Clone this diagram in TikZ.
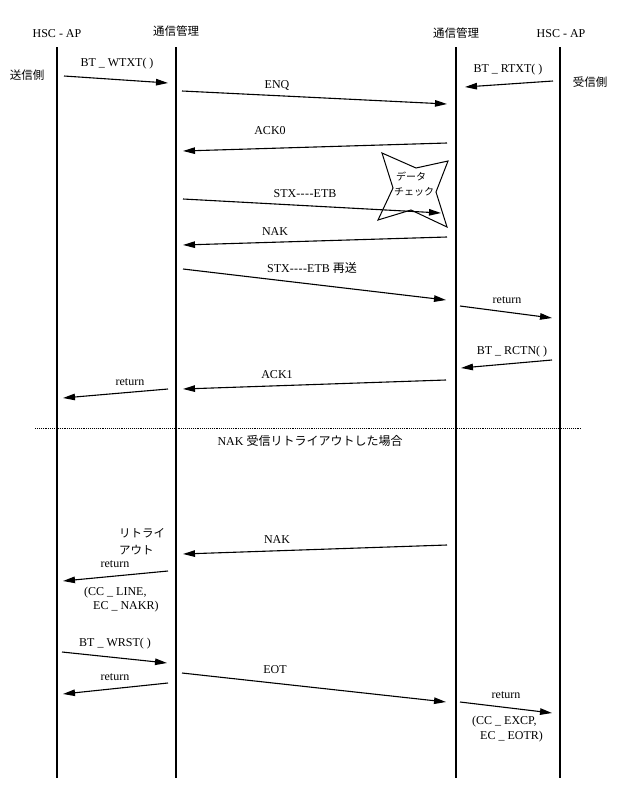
\documentclass[tikz,border=0pt]{standalone}
\usepackage{fontspec}
\setmainfont{Liberation Serif}[Ligatures=NoCommon]
\newfontfamily\jp{Noto Sans CJK JP}
\usetikzlibrary{arrows.meta}
\tikzset{
  life/.style={line width=1.6pt},
  msg/.style={line width=1.1pt,-{Triangle[length=12pt,width=6.5pt]}},
  lbl/.style={inner sep=0pt,font=\fontsize{12}{14}\selectfont},
  jlbl/.style={inner sep=0pt,font=\jp\fontsize{11.5}{14}\selectfont},
  sep/.style={line width=0.9pt,densely dotted},
  starshape/.style={line width=1pt}
}
\newcommand{\dsh}{-\kern0.5pt-\kern0.5pt-\kern0.5pt-}
\begin{document}
\begin{tikzpicture}[x=1pt,y=-1pt]
\useasboundingbox (0,0) rectangle (618,806);
% lifelines
\coordinate (Lt) at (57,47);   \coordinate (Lb) at (57,778);
\coordinate (Mt) at (176,47);  \coordinate (Mb) at (176,778);
\coordinate (Nt) at (456,47);  \coordinate (Nb) at (456,778);
\coordinate (Rt) at (560,47);  \coordinate (Rb) at (560,778);
\draw[life] (Lt) -- (Lb);
\draw[life] (Mt) -- (Mb);
\draw[life] (Nt) -- (Nb);
\draw[life] (Rt) -- (Rb);
% headings
\node[lbl] (h1) at (57,34) {HSC - AP};
\node[jlbl] (h2) at (176,31) {通信管理};
\node[jlbl] (h3) at (456,33) {通信管理};
\node[lbl] (h4) at (561,34) {HSC - AP};
\node[jlbl] (s1) at (27,75) {送信側};
\node[jlbl] (s2) at (590,82) {受信側};
% messages
\coordinate (a1) at (64,76);  \coordinate (b1) at (168,83);
\draw[msg] (a1) -- (b1);
\node[lbl] (t1) at (117,64) {BT \_ WTXT( )};

\coordinate (a2) at (182,91);  \coordinate (b2) at (447,104);
\draw[msg] (a2) -- (b2);
\node[lbl] (t2) at (277,85) {ENQ};

\coordinate (a3) at (553,81);  \coordinate (b3) at (465,87);
\draw[msg] (a3) -- (b3);
\node[lbl] (t3) at (508,70) {BT \_ RTXT( )};

\coordinate (a4) at (447,143);  \coordinate (b4) at (183,151);
\draw[msg] (a4) -- (b4);
\node[lbl] (t4) at (270,131) {ACK0};

% star
\draw[starshape,fill=white] (382,153) -- (416,168) -- (448,161) -- (436,192) -- (447,227) -- (411,210) -- (378,220) -- (393,188) -- cycle;
\node[jlbl,font=\jp\fontsize{10}{12}\selectfont] (d1) at (411,177) {データ};
\node[jlbl,font=\jp\fontsize{10}{12}\selectfont] (d2) at (414,192) {チェック};

\coordinate (a6) at (183,199);  \coordinate (b6) at (441,213);
\draw[msg] (a6) -- (b6);
\node[lbl] (t6) at (305,194) {STX\dsh ETB};

\coordinate (a7) at (447,237);  \coordinate (b7) at (183,245);
\draw[msg] (a7) -- (b7);
\node[lbl] (t7) at (275,232) {NAK};

\coordinate (a8) at (183,269);  \coordinate (b8) at (446,300);
\draw[msg] (a8) -- (b8);
\node[lbl] (t8) at (312,268) {STX\dsh ETB {\jp 再送}};

\coordinate (a9) at (460,306);  \coordinate (b9) at (552,318);
\draw[msg] (a9) -- (b9);
\node[lbl] (t9) at (507,300) {return};

\coordinate (a10) at (552,360);  \coordinate (b10) at (461,368);
\draw[msg] (a10) -- (b10);
\node[lbl] (t10) at (512,352) {BT \_ RCTN( )};

\coordinate (a11) at (446,380);  \coordinate (b11) at (183,389);
\draw[msg] (a11) -- (b11);
\node[lbl] (t11) at (277,375) {ACK1};

\coordinate (a12) at (168,389);  \coordinate (b12) at (63,398);
\draw[msg] (a12) -- (b12);
\node[lbl] (t12) at (130,382) {return};

% separator
\coordinate (p1) at (35,428); \coordinate (p2) at (582,428);
\draw[sep] (p1) -- (p2);
\node[lbl] (sepl) at (310,441) {NAK {\jp 受信リトライアウトした場合}};

% retry-out section
\coordinate (a13) at (447,545);  \coordinate (b13) at (183,554);
\draw[msg] (a13) -- (b13);
\node[lbl] (t13) at (277,540) {NAK};
\node[jlbl,anchor=west] (r1) at (119,533) {リトライ};
\node[jlbl,anchor=west] (r2) at (119,550) {アウト};

\coordinate (a14) at (168,571);  \coordinate (b14) at (63,581);
\draw[msg] (a14) -- (b14);
\node[lbl] (t14) at (115,564) {return};
\node[lbl,anchor=west] (c1) at (84,593) {(CC \_ LINE,};
\node[lbl,anchor=west] (c2) at (93,607) {EC \_ NAKR)};

\coordinate (a15) at (62,652);  \coordinate (b15) at (167,663);
\draw[msg] (a15) -- (b15);
\node[lbl] (t15) at (115,644) {BT \_ WRST( )};

\coordinate (a16) at (168,683);  \coordinate (b16) at (63,694);
\draw[msg] (a16) -- (b16);
\node[lbl] (t16) at (115,677) {return};

\coordinate (a17) at (182,673);  \coordinate (b17) at (446,702);
\draw[msg] (a17) -- (b17);
\node[lbl] (t17) at (275,670) {EOT};

\coordinate (a18) at (460,702);  \coordinate (b18) at (552,713);
\draw[msg] (a18) -- (b18);
\node[lbl] (t18) at (506,695) {return};
\node[lbl,anchor=west] (c3) at (472,722) {(CC \_ EXCP,};
\node[lbl,anchor=west] (c4) at (480,737) {EC \_ EOTR)};
\end{tikzpicture}
\end{document}
